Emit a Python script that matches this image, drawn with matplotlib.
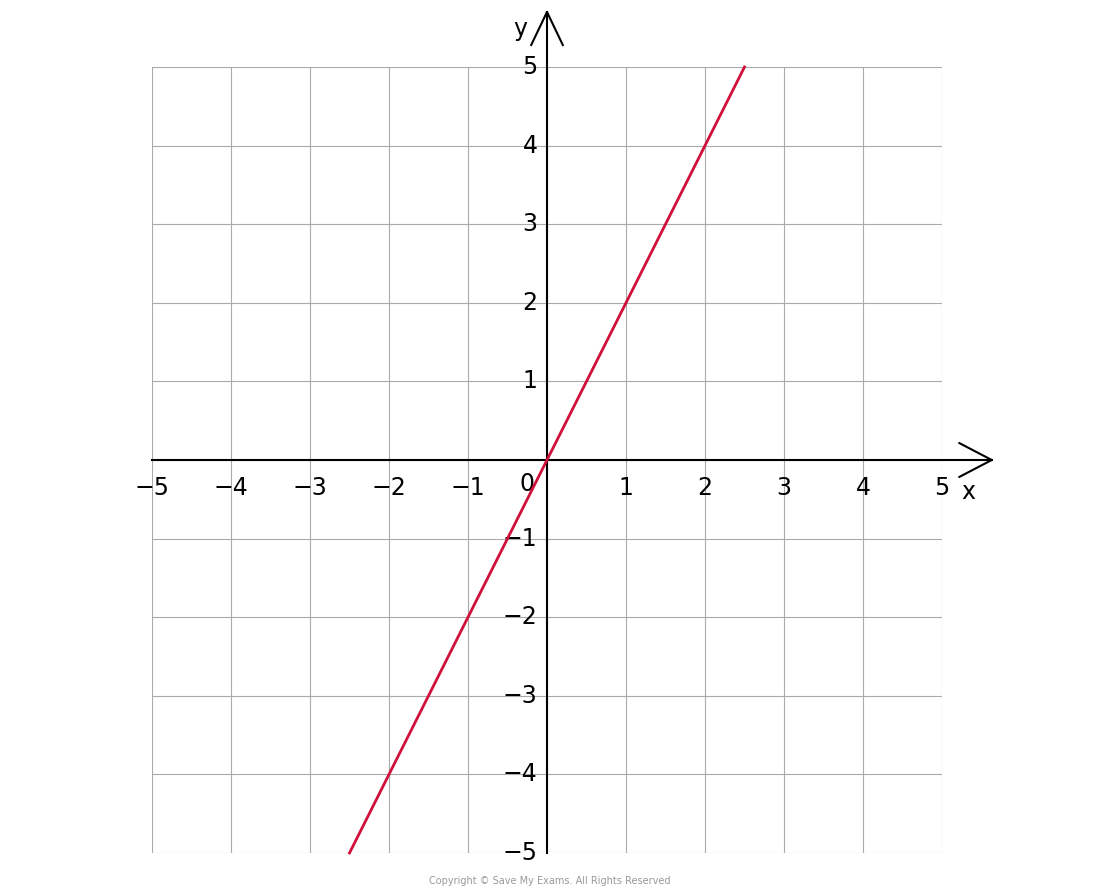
import matplotlib
matplotlib.use("Agg")
import matplotlib.pyplot as plt
import numpy as np

x_line = [-2.5, 2.5]
y_line = [-5, 5]
ticks = [-5, -4, -3, -2, -1, 1, 2, 3, 4, 5]

fig = plt.figure(figsize=(11, 8.94), dpi=100)
ax = fig.add_axes([152/1100, 1-853/894, 790/1100, 786/894])
ax.set_xlim(-5, 5); ax.set_ylim(-5, 5)
for v in range(-5, 6):
    ax.axvline(v, color="#aaaaaa", lw=0.8, zorder=0)
    ax.axhline(v, color="#aaaaaa", lw=0.8, zorder=0)
for s in ax.spines.values():
    s.set_visible(False)
ax.set_xticks([]); ax.set_yticks([])

k = dict(color="black", lw=1.5, clip_on=False, zorder=3)
ax.plot([-5, 5.63], [0, 0], **k)
ax.plot([5.22, 5.63, 5.22], [0.215, 0, -0.215], **k)
ax.plot([0, 0], [-5, 5.7], **k)
ax.plot([-0.2, 0, 0.2], [5.28, 5.7, 5.28], **k)

ax.plot(x_line, y_line, color="#D0103A", lw=2, zorder=4, clip_on=False)

fs = 17
for t in ticks:
    ax.text(t, -0.35, f"\u2212{abs(t)}" if t < 0 else str(t), ha="center", va="center", fontsize=fs, clip_on=False)
    ax.text(-0.12, t, f"\u2212{abs(t)}" if t < 0 else str(t), ha="right", va="center", fontsize=fs, clip_on=False)
ax.text(-0.25, -0.3, "0", ha="center", va="center", fontsize=fs)
ax.text(5.33, -0.41, "x", ha="center", va="center", fontsize=fs, clip_on=False)
ax.text(-0.34, 5.48, "y", ha="center", va="center", fontsize=fs, clip_on=False)

fig.text(550/1100, 1-881/894, "Copyright © Save My Exams. All Rights Reserved", ha="center", va="center", fontsize=7, color="#999999")
fig.savefig("out.png", dpi=100)
